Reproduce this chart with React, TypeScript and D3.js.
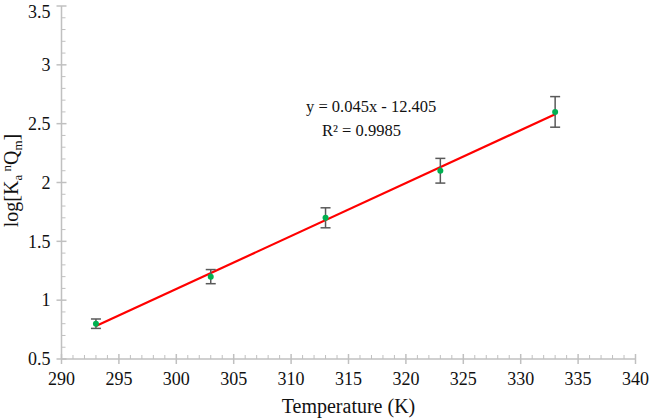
import * as d3 from "d3";
import React from "react";

// data
const temps = [293, 303, 313, 323, 333];
const logK = [0.8, 1.2, 1.7, 2.1, 2.6];
const errs = [0.04, 0.06, 0.085, 0.105, 0.13];
const fitSlope = 0.045;
const fitIntercept = -12.405;
const fitLabel = "y = 0.045x - 12.405";
const r2Label = "R² = 0.9985";
const xTicks = [290, 295, 300, 305, 310, 315, 320, 325, 330, 335, 340];
const yTicks = [0.5, 1, 1.5, 2, 2.5, 3, 3.5];

const W = 649;
const H = 419;
const font = "'Liberation Serif', 'Times New Roman', serif";
const axisColor = "#c0c0c0";

const App = () => {
    const x = d3.scaleLinear().domain([290, 340]).range([61.5, 635.5]);
    const y = d3.scaleLinear().domain([0.5, 3.5]).range([359, 6]);

    const xMinor = d3.range(290, 341, 1).filter(v => v % 5 !== 0);
    const yMinor = d3.range(5, 36, 1).map(v => v / 10).filter(v => Math.round(v * 10) % 5 !== 0);

    const line = d3
        .line<number>()
        .x(d => x(d))
        .y(d => y(fitSlope * d + fitIntercept));

    const x0 = x(290);
    const y0 = y(0.5);

    return (
        <svg width={W} height={H} style={{position: "absolute", left: 0, top: 0, background: "#fff"}}
             fontFamily={font}>
            {/* y axis */}
            <line x1={x0} x2={x0} y1={y(3.5)} y2={y0} stroke={axisColor} strokeWidth={1.5}/>
            {yMinor.map(v => (
                <line key={"ym" + v} x1={x0} x2={x0 + 4} y1={y(v)} y2={y(v)} stroke={axisColor}/>
            ))}
            {yTicks.map(v => (
                <g key={"y" + v}>
                    <line x1={x0 - 5} x2={x0 + 5} y1={y(v)} y2={y(v)} stroke={axisColor} strokeWidth={1.5}/>
                    {/* keep the top label inside the page */}
                    <text x={x0 - 11} y={Math.max(y(v) + 6.3, 18)} textAnchor="end" fontSize={18} fill="#111">{v}</text>
                </g>
            ))}

            {/* x axis */}
            <line x1={x0} x2={x(340)} y1={y0} y2={y0} stroke={axisColor} strokeWidth={1.5}/>
            {xMinor.map(v => (
                <line key={"xm" + v} x1={x(v)} x2={x(v)} y1={y0 - 4} y2={y0} stroke={axisColor}/>
            ))}
            {xTicks.map(v => (
                <g key={"x" + v}>
                    <line x1={x(v)} x2={x(v)} y1={y0 - 5} y2={y0 + 5} stroke={axisColor} strokeWidth={1.5}/>
                    <text x={x(v)} y={y0 + 26} textAnchor="middle" fontSize={18} fill="#111">{v}</text>
                </g>
            ))}

            {/* axis titles */}
            <text x={(x0 + x(340)) / 2} y={413} textAnchor="middle" fontSize={20} fill="#111">Temperature (K)</text>
            <text transform={`translate(18,${y(2) - 2}) rotate(-90)`} textAnchor="middle" fontSize={20} fill="#111">
                log[K<tspan fontSize={13} dy={4}>a</tspan>
                <tspan fontSize={13} dy={-11}> n</tspan>
                <tspan dy={7}>Q</tspan>
                <tspan fontSize={13} dy={4}>m</tspan>
                <tspan dy={-4}>]</tspan>
            </text>

            {/* trendline */}
            <path d={line([temps[0], temps[temps.length - 1]]) || ""} stroke="#ff0000" strokeWidth={2.2} fill="none"/>

            {/* error bars and points */}
            {temps.map((t, i) => (
                <g key={"p" + t}>
                    <line x1={x(t)} x2={x(t)} y1={y(logK[i] - errs[i])} y2={y(logK[i] + errs[i])}
                          stroke="#595959" strokeWidth={1.5}/>
                    <line x1={x(t) - 5} x2={x(t) + 5} y1={y(logK[i] - errs[i])} y2={y(logK[i] - errs[i])}
                          stroke="#595959" strokeWidth={1.5}/>
                    <line x1={x(t) - 5} x2={x(t) + 5} y1={y(logK[i] + errs[i])} y2={y(logK[i] + errs[i])}
                          stroke="#595959" strokeWidth={1.5}/>
                    <circle cx={x(t)} cy={y(logK[i])} r={3} fill="#00b050"/>
                </g>
            ))}

            {/* equation */}
            <text x={306} y={112} fontSize={16.5} fill="#111">{fitLabel}</text>
            <text x={322} y={136} fontSize={16.5} fill="#111">{r2Label}</text>
        </svg>
    );
};

export default App;
